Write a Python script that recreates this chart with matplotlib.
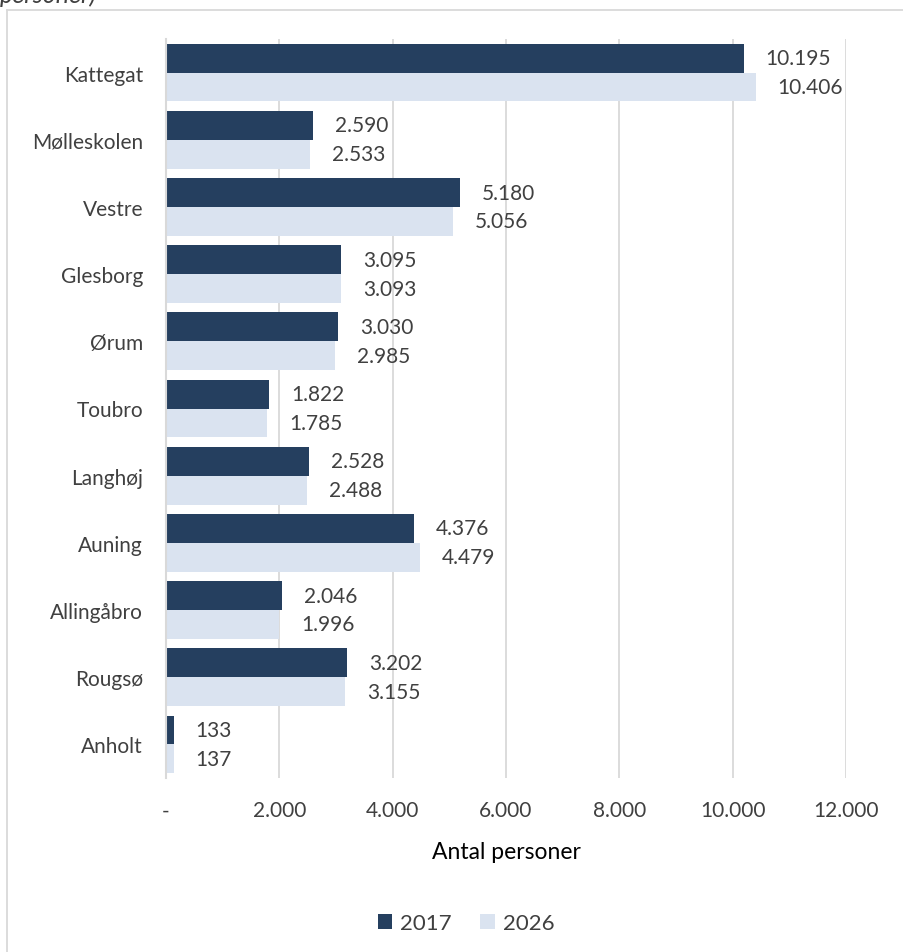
import matplotlib.pyplot as plt
import numpy as np
from matplotlib.lines import Line2D
from matplotlib.ticker import FuncFormatter

omraader = ["Kattegat", "Mølleskolen", "Vestre", "Glesborg", "Ørum", "Toubro",
            "Langhøj", "Auning", "Allingåbro", "Rougsø", "Anholt"]
antal_2017 = [10195, 2590, 5180, 3095, 3030, 1822, 2528, 4376, 2046, 3202, 133]
antal_2026 = [10406, 2533, 5056, 3093, 2985, 1785, 2488, 4479, 1996, 3155, 137]

plt.rcParams['font.family'] = ['Lato', 'DejaVu Sans']
tekst = "#404040"
moerk = "#253F5F"
lys = "#DAE3F0"
graa = "#D9D9D9"

fig = plt.figure(figsize=(9.04, 9.53), dpi=100)
ax = fig.add_axes([166/904, 1-779/953, 680/904, 739/953])

y = np.arange(len(omraader))
h = 0.43
b1 = ax.barh(y - h/2, antal_2017, height=h, color=moerk, label="2017", zorder=3)
b2 = ax.barh(y + h/2, antal_2026, height=h, color=lys, label="2026", zorder=3)

def fmt(v):
    return f"{int(v):,}".replace(",", ".")

for bars in (b1, b2):
    for r in bars:
        ax.annotate(fmt(r.get_width()), (r.get_width(), r.get_y() + r.get_height()/2),
                    xytext=(22, 0), textcoords="offset pixels",
                    va="center", ha="left", fontsize=15, color=tekst)

ax.set_xlim(0, 12000)
ax.set_ylim(len(omraader) - 0.5, -0.5)
ax.set_xticks(np.arange(0, 12001, 2000))
ax.xaxis.set_major_formatter(FuncFormatter(lambda v, p: "-" if v == 0 else fmt(v)))
ax.set_yticks(y)
ax.set_yticklabels(omraader)
ax.tick_params(axis="both", length=0, labelsize=15, colors=tekst)
ax.tick_params(axis="y", pad=16.5)
ax.tick_params(axis="x", pad=16)
ax.grid(axis="x", color=graa, linewidth=1.3, zorder=0)
for s in ["top", "right", "bottom"]:
    ax.spines[s].set_visible(False)
ax.spines["left"].set_color(graa)
ax.spines["left"].set_linewidth(1.5)
ax.spines["left"].set_zorder(4)
ax.set_xlabel("Antal personer", fontsize=16.5, color="black", labelpad=15)

fig.legend(handles=[b1, b2], loc="center", bbox_to_anchor=(466/904, 1-924/953),
           ncol=2, frameon=False, fontsize=16, handlelength=0.65, handleheight=0.65,
           handletextpad=0.35, columnspacing=1.3, labelcolor=tekst)

# ramme og afskaaret titel
fig.add_artist(Line2D([7/904, 7/904], [0, 1-11/953], color=graa, linewidth=1.3))
fig.add_artist(Line2D([7/904, 1], [1-11/953, 1-11/953], color=graa, linewidth=1.3))
fig.text(0, 1-3/953, "personer)", style="italic", fontsize=18, color=tekst,
         va="baseline", ha="left")

fig.savefig("out.png", dpi=100)
